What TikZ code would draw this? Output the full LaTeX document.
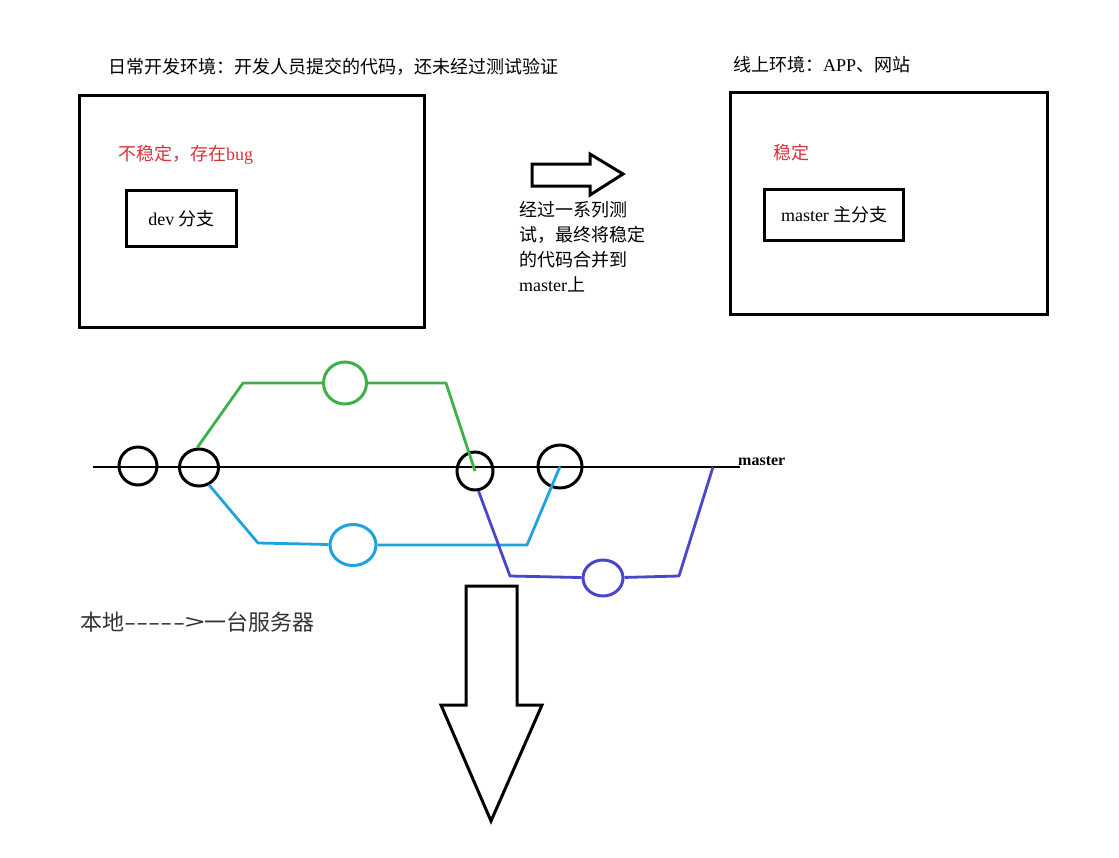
\documentclass[tikz,border=0pt]{standalone}
\usepackage{fontspec}
\setmainfont{Liberation Serif}
\newfontfamily\cjk{Noto Sans CJK SC}
\usepackage{tikz}
\usetikzlibrary{positioning,shapes.geometric,calc}
\definecolor{bugred}{HTML}{D9303A}
\definecolor{featgreen}{HTML}{3DB04A}
\definecolor{fixblue}{HTML}{1EA2E0}
\definecolor{hotpurple}{HTML}{4A46C8}
\definecolor{greytext}{HTML}{333333}
\tikzset{
  envbox/.style={draw, line width=3pt, inner sep=0pt, anchor=north west},
  label18/.style={font=\fontsize{18}{22}\selectfont\cjk, inner sep=0pt},
  commit/.style={ellipse, draw=#1, line width=3pt, inner sep=0pt},
  commit/.default=black,
  trunk/.style={line width=2.8pt, draw=black},
  branch/.style={line width=2.8pt, draw=#1, line join=round},
  bigarrow/.style={draw, line width=3pt, line join=miter, fill=white},
}
\begin{document}
\begin{tikzpicture}[x=1pt, y=-1pt]
  \useasboundingbox (0,0) rectangle (1119,857);
  % environments
  \node[label18, anchor=west] (devtitle) at (108,67)
    {日常开发环境：开发人员提交的代码，还未经过测试验证};
  \node[envbox, minimum width=345, minimum height=232] (devenv) at (78,94) {};
  \node[label18, anchor=west, text=bugred] (unstable) at (118,155)
    {不稳定，存在{\rmfamily bug}};
  \node[envbox, minimum width=110, minimum height=56] (dev) at (125,189) {};
  \node[label18] at (dev.center) {{\rmfamily dev} 分支};
  \node[label18, anchor=west] (prodtitle) at (733,65)
    {线上环境：{\rmfamily APP}、网站};
  \node[envbox, minimum width=317, minimum height=222] (prodenv) at (729,91) {};
  \node[label18, anchor=west, text=bugred] (stable) at (773,153) {稳定};
  \node[envbox, minimum width=139, minimum height=51] (master) at (763,188) {};
  \node[label18] at (master.center) {{\rmfamily master} 主分支};
  % merge arrow
  \draw[bigarrow] (532,164) -- (590,164) -- (590,154) -- (623,174)
    -- (590,195) -- (590,186) -- (532,186) -- cycle;
  \node[label18, anchor=north west, align=left, font=\fontsize{18}{25}\selectfont\cjk]
    (mergenote) at (519,201)
    {经过一系列测\\试，最终将稳定\\的代码合并到\\{\rmfamily master}上};
  % branches
  \coordinate (mstart) at (93,467);
  \coordinate (mend) at (740,467);
  \draw[trunk] (mstart) -- (mend);
  \node[anchor=base west, inner sep=0pt, font=\fontsize{16}{18}\selectfont\bfseries]
    (mlabel) at (738,465) {master};
  \node[commit, minimum width=38, minimum height=38] (c1) at (138,466) {};
  \node[commit, minimum width=39, minimum height=37] (c2) at (199,467.5) {};
  \node[commit, minimum width=36, minimum height=38] (c3) at (475,471) {};
  \node[commit, minimum width=44, minimum height=43] (c4) at (560,466.5) {};
  \node[commit=featgreen, minimum width=43, minimum height=42] (gc) at (345,383) {};
  \node[commit=fixblue, minimum width=46, minimum height=41] (bc) at (353,545) {};
  \node[commit=hotpurple, minimum width=40, minimum height=36] (pc) at (603,578) {};
  \coordinate (g1) at (243,383);
  \coordinate (g2) at (446,383);
  \coordinate (b1) at (258,543);
  \coordinate (b2) at (527,545);
  \coordinate (p1) at (510,576);
  \coordinate (p2) at (679,576);
  \coordinate (pend) at (713,467);
  \draw[branch=featgreen] (c2.95) -- (g1) -- (gc);
  \draw[branch=featgreen] (gc) -- (g2) -- (c3.center);
  \draw[branch=fixblue] (c2.-60) -- (b1) -- (bc);
  \draw[branch=fixblue] (bc) -- (b2) -- (c4.center);
  \draw[branch=hotpurple] (c3.-80) -- (p1) -- (pc);
  \draw[branch=hotpurple] (pc) -- (p2) -- (pend);
  % deploy
  \node[anchor=west, inner sep=0pt, text=greytext, font=\fontsize{22}{26}\selectfont\cjk]
    (deploy) at (80,622) {本地{\addfontfeature{FakeStretch=1.6}----->}一台服务器};
  \draw[bigarrow] (466,586) -- (517,586) -- (517,705) -- (542,705) -- (491,821)
    -- (441,705) -- (466,705) -- cycle;
\end{tikzpicture}
\end{document}
